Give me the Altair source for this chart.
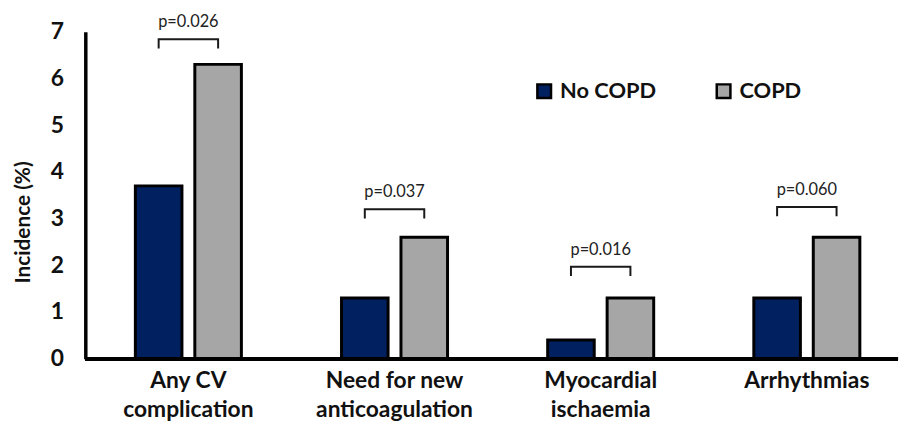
import altair as alt
import pandas as pd

categories = ["Any CV complication", "Need for new anticoagulation", "Myocardial ischaemia", "Arrhythmias"]
groups = ["No COPD", "COPD"]
no_copd = [3.7, 1.3, 0.4, 1.3]
copd = [6.3, 2.6, 1.3, 2.6]
p_values = ["p=0.026", "p=0.037", "p=0.016", "p=0.060"]
bracket_level = [6.84, 3.2, 1.97, 3.25]
bracket_drop = 0.2

FONT = "Lato"
NAVY = "#002060"
GRAY = "#A6A6A6"

bars = pd.DataFrame(
    [{"cat": c, "group": "No COPD", "value": v} for c, v in zip(categories, no_copd)]
    + [{"cat": c, "group": "COPD", "value": v} for c, v in zip(categories, copd)]
)

brk_rows = []
for c, lv in zip(categories, bracket_level):
    brk_rows += [
        {"cat": c, "group": "No COPD", "y": lv - bracket_drop, "o": 0},
        {"cat": c, "group": "No COPD", "y": lv, "o": 1},
        {"cat": c, "group": "COPD", "y": lv, "o": 2},
        {"cat": c, "group": "COPD", "y": lv - bracket_drop, "o": 3},
    ]
brk = pd.DataFrame(brk_rows)
ptxt = pd.DataFrame({"cat": categories, "y": bracket_level, "p": p_values})

W, H = 820, 330

x_enc = alt.X(
    "cat:N",
    sort=categories,
    scale=alt.Scale(domain=categories, range=[0, 832], paddingInner=0, paddingOuter=0),
    axis=alt.Axis(
        title=None, domain=False, ticks=False, labelAngle=0,
        labelExpr="datum.value == 'Any CV complication' ? ['Any CV', 'complication'] : datum.value == 'Need for new anticoagulation' ? ['Need for new', 'anticoagulation'] : datum.value == 'Myocardial ischaemia' ? ['Myocardial', 'ischaemia'] : datum.value",
        labelFont=FONT, labelFontSize=23, labelFontWeight="bold", labelColor="#111",
        labelPadding=11, labelLineHeight=29, labelBaseline="top",
    ),
)
xoff_enc = alt.XOffset(
    "group:N", sort=groups,
    scale=alt.Scale(domain=groups, paddingInner=0.2167, paddingOuter=0.842),
)
y_scale = alt.Scale(domain=[0, 7], nice=False)
y_enc = alt.Y(
    "value:Q", scale=y_scale,
    axis=alt.Axis(
        title="Incidence (%)", values=list(range(8)), grid=False, ticks=False,
        domainColor="black", domainWidth=3.5,
        labelFont=FONT, labelFontSize=23, labelFontWeight="bold", labelColor="#111",
        labelPadding=22,
        titleFont=FONT, titleFontSize=21, titleFontWeight="bold", titleColor="#111",
        titleX=-62, titleY=192, titleAngle=270, titleAlign="center", titleBaseline="middle",
    ),
)

bar_layer = alt.Chart(bars).mark_bar(stroke="black", strokeWidth=3).encode(
    x=x_enc,
    xOffset=xoff_enc,
    y=y_enc,
    color=alt.Color(
        "group:N", sort=groups,
        scale=alt.Scale(domain=groups, range=[NAVY, GRAY]),
        legend=alt.Legend(
            title=None, orient="none", direction="horizontal", legendX=452, legendY=49,
            symbolType="square", symbolSize=190, symbolStrokeColor="black", symbolStrokeWidth=2.5,
            labelFont=FONT, labelFontSize=22, labelFontWeight="bold", labelColor="#111",
            labelOffset=5, columnPadding=56, padding=0,
        ),
    ),
)

baseline = alt.Chart(bars).mark_rule(color="black", strokeWidth=3.5).encode(
    y=alt.datum(0), x=alt.value(0), x2=alt.value(W)
)

brk_layer = alt.Chart(brk).mark_line(color="#1a1a1a", strokeWidth=2).encode(
    x=alt.X("cat:N", sort=categories),
    xOffset=alt.XOffset("group:N", sort=groups),
    y=alt.Y("y:Q", scale=y_scale),
    detail="cat:N",
    order="o:Q",
)

txt_layer = alt.Chart(ptxt).mark_text(
    font=FONT, fontSize=16.5, color="#222", dy=-17, baseline="middle", align="center"
).encode(
    x=alt.X("cat:N", sort=categories),
    y=alt.Y("y:Q", scale=y_scale),
    text="p:N",
)

chart = (
    alt.layer(bar_layer, brk_layer, txt_layer, baseline)
    .properties(
        width=W, height=H,
        autosize=alt.AutoSizeParams(type="none"),
        padding={"left": 78, "top": 22, "right": 2, "bottom": 70},
        background="white",
    )
    .configure_view(stroke=None)
)

chart.save("out.html", embed_options={"renderer": "svg", "actions": False})
